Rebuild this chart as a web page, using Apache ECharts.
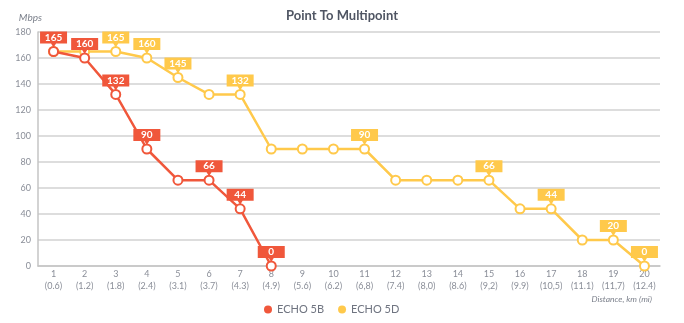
<!DOCTYPE html>
<html>
<head>
<meta charset="utf-8">
<script src="https://cdn.jsdelivr.net/npm/echarts@6/dist/echarts.min.js"></script>
<style>html,body{margin:0;padding:0;background:#fff}#c{width:684px;height:323px}</style>
</head>
<body>
<div id="c"></div>
<script>
var categories = ['1\n(0.6)','2\n(1.2)','3\n(1.8)','4\n(2.4)','5\n(3.1)','6\n(3.7)','7\n(4.3)','8\n(4.9)','9\n(5.6)','10\n(6.2)',
  '11\n(6,8)','12\n(7.4)','13\n(8,0)','14\n(8.6)','15\n(9,2)','16\n(9.9)','17\n(10,5)','18\n(11.1)','19\n(11,7)','20\n(12.4)'];
var echo5B = [165,160,132,90,66,66,44,0];
var echo5D = [165,165,165,160,145,132,132,90,90,90,90,66,66,66,66,44,44,20,20,0];
var labeled5B = [0,1,2,3,5,6,7];
var labeled5D = [2,3,4,6,10,14,16,18,19];
var RED = '#F0573B', YEL = '#FFC94B';
var FONT = 'Lato';

function callouts(values, idx, color, z) {
  return {
    z: z,
    symbol: 'path://M0,0H27V12H16L13.5,16L11,12H0Z',
    symbolSize: [27, 16],
    symbolOffset: [0, -12],
    itemStyle: { color: color },
    label: { show: true, position: 'inside', offset: [0, -2], color: '#fff', fontSize: 10, fontWeight: 'bold', fontFamily: FONT },
    data: idx.map(function (i) { return { coord: [i, values[i]], value: values[i] }; })
  };
}

var chart = echarts.init(document.getElementById('c'));
chart.setOption({
  animation: false,
  textStyle: { fontFamily: FONT },
  title: [
    { text: 'Point To Multipoint', left: 'center', top: 4, textStyle: { fontSize: 13, fontWeight: 'bold', color: '#4f5563', fontFamily: FONT } },
    { text: 'Distance, km (mi)', right: 27, top: 290, textStyle: { fontSize: 8.5, fontStyle: 'italic', fontWeight: 'normal', color: '#7a7f8a', fontFamily: FONT } }
  ],
  legend: {
    bottom: 3, left: 259, icon: 'circle', itemWidth: 8, itemHeight: 8, itemGap: 14,
    textStyle: { fontSize: 11, color: '#6f7480', fontFamily: FONT },
    data: [
      { name: 'ECHO 5B', itemStyle: { color: RED, borderWidth: 0 } },
      { name: 'ECHO 5D', itemStyle: { color: YEL, borderWidth: 0 } }
    ]
  },
  grid: { left: 38, right: 24, top: 32, bottom: 57, containLabel: false },
  xAxis: {
    type: 'category', data: categories, boundaryGap: true,
    axisLine: { lineStyle: { color: '#c4c4c4', width: 1.5 } },
    axisTick: { show: false },
    axisLabel: { color: '#8a8e98', fontSize: 9, lineHeight: 12, margin: 2, interval: 0, fontFamily: FONT }
  },
  yAxis: {
    type: 'value', min: 0, max: 180, interval: 20,
    name: 'Mbps', nameLocation: 'end', nameGap: 9,
    nameTextStyle: { fontStyle: 'italic', color: '#7a7f8a', fontSize: 10, align: 'right', padding: [0, -4, 0, 0], fontFamily: FONT },
    axisLine: { show: true, lineStyle: { color: '#c4c4c4', width: 1.5 } },
    axisTick: { show: false },
    axisLabel: { color: '#8a8e98', fontSize: 9, margin: 7, fontFamily: FONT },
    splitLine: { lineStyle: { color: '#d2d2d2', width: 1.5 } }
  },
  series: [
    {
      name: 'ECHO 5B', type: 'line', z: 4, data: echo5B,
      symbol: 'circle', symbolSize: 9, showSymbol: true,
      lineStyle: { color: RED, width: 2.5 },
      itemStyle: { color: '#fff', borderColor: RED, borderWidth: 2 },
      markPoint: callouts(echo5B, labeled5B, RED, 8)
    },
    {
      name: 'ECHO 5D', type: 'line', z: 3, data: echo5D,
      symbol: 'circle', symbolSize: 9, showSymbol: true,
      lineStyle: { color: YEL, width: 2.5 },
      itemStyle: { color: '#fff', borderColor: YEL, borderWidth: 2 },
      markPoint: callouts(echo5D, labeled5D, YEL, 7)
    }
  ]
});
</script>
</body>
</html>
